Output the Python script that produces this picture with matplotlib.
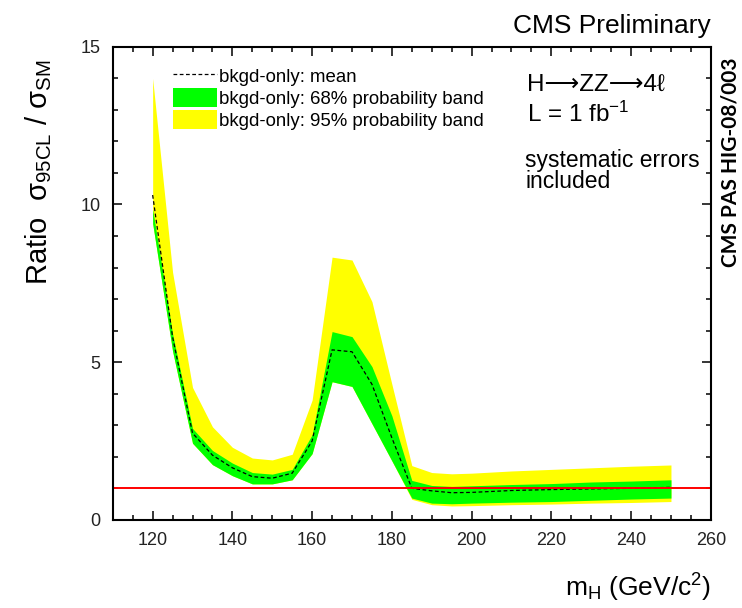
import matplotlib
matplotlib.use('Agg')
import matplotlib.pyplot as plt
from matplotlib.ticker import MultipleLocator
from matplotlib.patches import Patch
from matplotlib.lines import Line2D

plt.rcParams['font.family'] = ['Liberation Sans', 'DejaVu Sans']
plt.rcParams['mathtext.default'] = 'regular'

# Higgs mass points and expected limit bands (ratio to SM)
mass = [120, 125, 130, 135, 140, 145, 150, 155, 160, 165, 170, 175, 180,
        185, 190, 195, 200, 210, 220, 230, 240, 250]
mean = [10.3, 5.8, 2.75, 2.05, 1.65, 1.37, 1.32, 1.48, 2.5, 5.39, 5.33, 4.3, 2.6,
        1.0, 0.92, 0.86, 0.87, 0.93, 0.96, 0.98, 1.0, 1.03]
lo68 = [9.4, 5.35, 2.43, 1.75, 1.40, 1.14, 1.14, 1.27, 2.1, 4.38, 4.23, 3.05, 1.87,
        0.69, 0.53, 0.51, 0.53, 0.56, 0.58, 0.62, 0.66, 0.69]
hi68 = [9.86, 5.9, 2.9, 2.2, 1.8, 1.5, 1.45, 1.6, 2.7, 5.97, 5.81, 4.86, 3.3,
        1.25, 1.09, 1.06, 1.08, 1.12, 1.15, 1.2, 1.23, 1.27]
lo95 = [9.4, 5.35, 2.43, 1.75, 1.40, 1.14, 1.14, 1.27, 2.1, 4.38, 4.23, 3.05, 1.87,
        0.65, 0.48, 0.44, 0.45, 0.48, 0.5, 0.53, 0.55, 0.58]
hi95 = [14.0, 7.85, 4.2, 2.95, 2.3, 1.96, 1.9, 2.08, 3.8, 8.33, 8.24, 6.92, 4.3,
        1.72, 1.50, 1.46, 1.48, 1.55, 1.6, 1.65, 1.7, 1.74]

fig = plt.figure(figsize=(7.42, 6.08), dpi=100)
ax = fig.add_axes([0.152, 0.145, 0.806, 0.778])

ax.fill_between(mass, lo95, hi95, color='#ffff00', lw=0)
ax.fill_between(mass, lo68, hi68, color='#00ff00', lw=0)
ax.plot(mass, mean, color='black', lw=0.9, linestyle=(0, (3, 2)))
ax.axhline(1, color='#ff0000', lw=1.4)

ax.set_xlim(110, 260)
ax.set_ylim(0, 15)
ax.xaxis.set_major_locator(MultipleLocator(20))
ax.xaxis.set_minor_locator(MultipleLocator(5))
ax.yaxis.set_major_locator(MultipleLocator(5))
ax.yaxis.set_minor_locator(MultipleLocator(1))
ax.tick_params(which='both', direction='in', top=True, right=True,
               width=1.1, labelsize=13, labelcolor='#222222')
ax.tick_params(which='major', length=6.5, pad=9)
ax.tick_params(which='minor', length=3.5)
for s in ax.spines.values():
    s.set_linewidth(1.5)

# legend
handles = [Line2D([], [], color='black', lw=0.9, linestyle=(0, (3, 2))),
           Patch(color='#00ff00', lw=0),
           Patch(color='#ffff00', lw=0)]
labels = ['bkgd-only: mean',
          'bkgd-only: 68% probability band',
          'bkgd-only: 95% probability band']
ax.legend(handles, labels, loc='upper left', bbox_to_anchor=(0.1, 0.959),
          frameon=False, fontsize=13.4, borderpad=0, borderaxespad=0,
          handlelength=2.37, handleheight=1.22, handletextpad=0.15,
          labelspacing=0.1)

# annotations
fig.text(0.958, 0.945, 'CMS Preliminary', ha='right', va='baseline', fontsize=19)
fig.text(0.710, 0.851, 'H⟶ZZ⟶4ℓ', ha='left', va='baseline', fontsize=17.5)
fig.text(0.710, 0.800, 'L = 1 fb$^{-1}$', ha='left', va='baseline', fontsize=17.5)
fig.text(0.708, 0.726, 'systematic errors', ha='left', va='baseline', fontsize=16.5)
fig.text(0.708, 0.691, 'included', ha='left', va='baseline', fontsize=16.5)
fig.text(0.984, 0.733, 'CMS PAS HIG-08/003', rotation=90, ha='center', va='center',
         fontsize=15, fontweight='bold', family=['Lato', 'DejaVu Sans'])

fig.text(0.052, 0.716, 'Ratio  σ$_{95CL}$ / σ$_{SM}$', rotation=90,
         ha='center', va='center', fontsize=21)
fig.text(0.958, 0.033, 'm$_{H}$ (GeV/c$^{2}$)', ha='right', va='center', fontsize=19)

fig.savefig('out.png', dpi=100)
